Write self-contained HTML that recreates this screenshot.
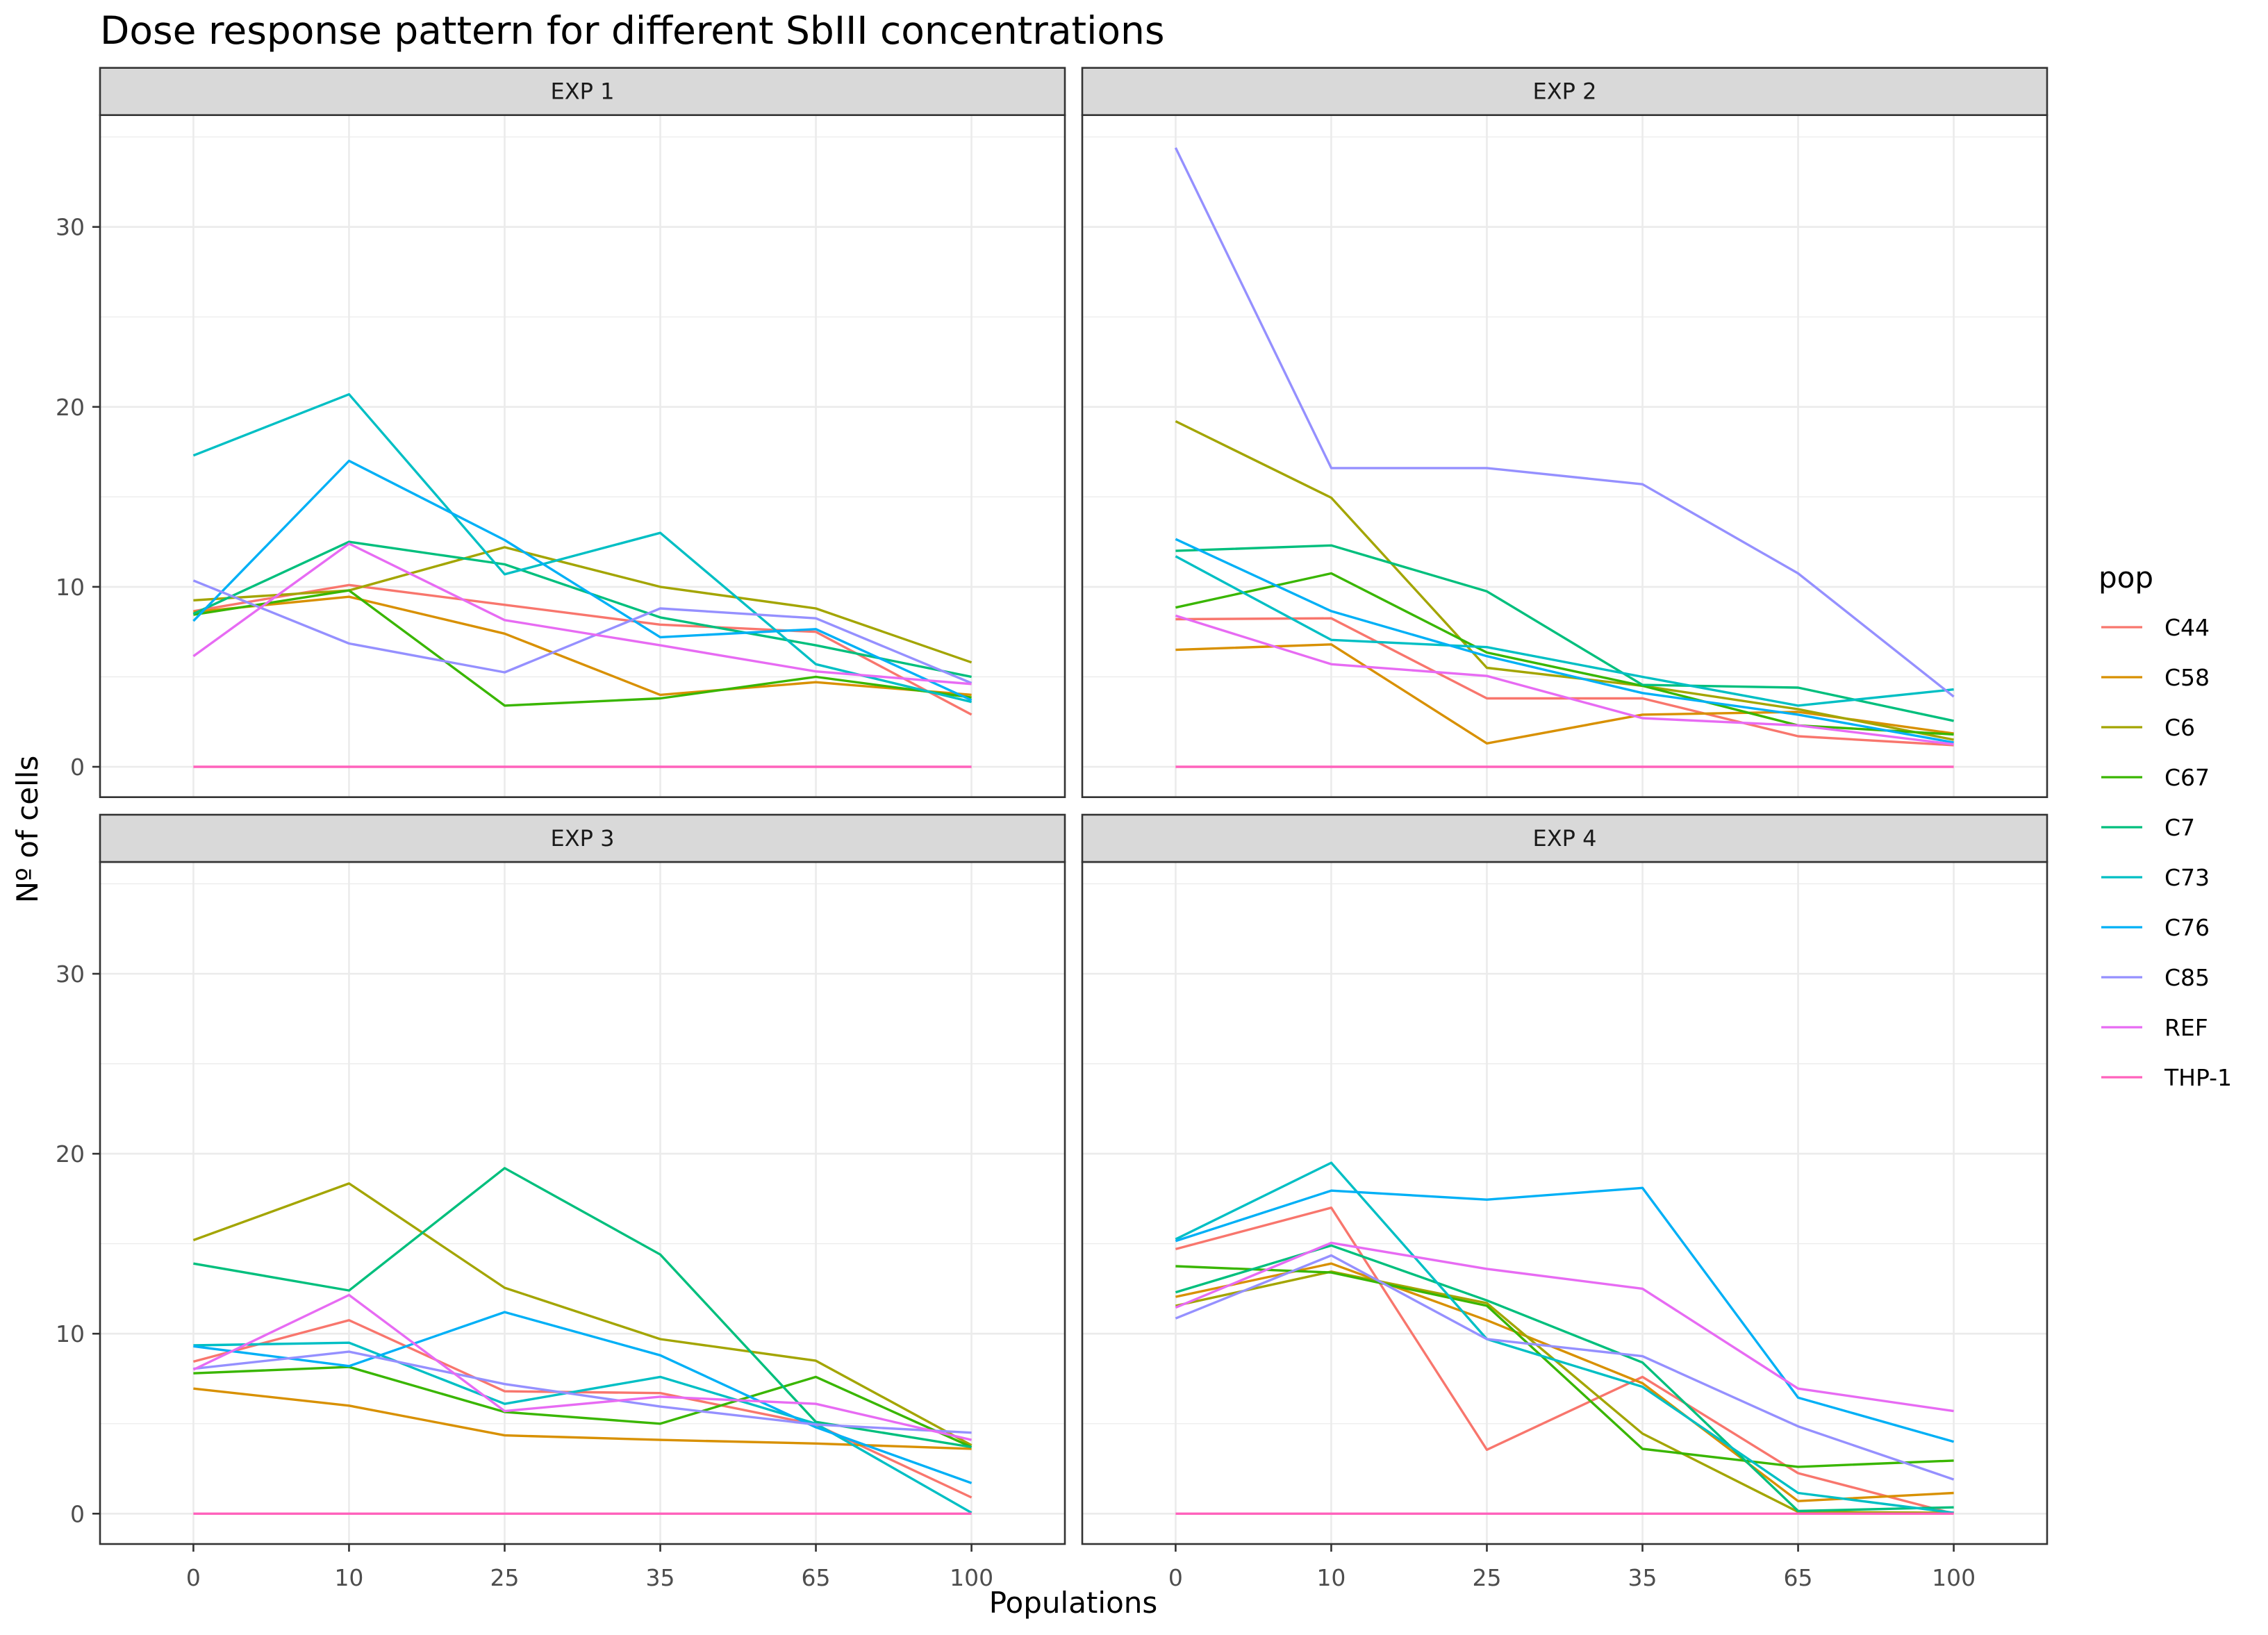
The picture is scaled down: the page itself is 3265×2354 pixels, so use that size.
<!DOCTYPE html>
<html><head><meta charset="utf-8">
<style>
html,body{margin:0;padding:0;background:#fff;}
svg{display:block;font-family:"DejaVu Sans","Liberation Sans",sans-serif;}
</style></head>
<body>
<svg id="chart" xmlns="http://www.w3.org/2000/svg" width="3265" height="2354" viewBox="0 0 3265 2354">
<rect x="0" y="0" width="3265" height="2354" fill="#fff"/>
<text x="144" y="63" font-size="55" fill="#000">Dose response pattern for different SbIII concentrations</text>
<text x="1545" y="2322" font-size="42" text-anchor="middle" fill="#000">Populations</text>
<text x="0" y="0" font-size="42" text-anchor="middle" fill="#000" transform="translate(54,1194) rotate(-90)">Nº of cells</text>
<g id="panels"></g>
<g id="legend"></g>
</svg>
<script>
const categories = ["0","10","25","35","65","100"];
const yTicks = [0,10,20,30];
const yMinor = [5,15,25,35];
const series = ["C44","C58","C6","C67","C7","C73","C76","C85","REF","THP-1"];
const colors = ["#F8766D","#D89000","#A3A500","#39B600","#00BF7D","#00BFC4","#00B0F6","#9590FF","#E76BF3","#FF62BC"];
const panelNames = ["EXP 1","EXP 2","EXP 3","EXP 4"];

const exp1C44 = [8.65,10.1,9.0,7.9,7.5,2.9];
const exp1C58 = [8.6,9.45,7.4,4.0,4.7,4.0];
const exp1C6 = [9.25,9.8,12.2,10.0,8.8,5.8];
const exp1C67 = [8.45,9.8,3.4,3.8,5.0,3.85];
const exp1C7 = [8.5,12.5,11.25,8.3,6.75,5.0];
const exp1C73 = [17.3,20.7,10.7,13.0,5.7,3.6];
const exp1C76 = [8.1,17.0,12.6,7.2,7.65,3.7];
const exp1C85 = [10.35,6.85,5.25,8.8,8.25,4.65];
const exp1REF = [6.15,12.4,8.15,6.75,5.3,4.6];
const exp1THP1 = [0,0,0,0,0,0];

const exp2C44 = [8.2,8.25,3.8,3.8,1.7,1.2];
const exp2C58 = [6.5,6.8,1.3,2.9,3.05,1.85];
const exp2C6 = [19.2,14.95,5.5,4.5,3.2,1.5];
const exp2C67 = [8.85,10.75,6.35,4.5,2.3,1.8];
const exp2C7 = [12.0,12.3,9.75,4.55,4.4,2.55];
const exp2C73 = [11.7,7.05,6.65,5.0,3.4,4.3];
const exp2C76 = [12.65,8.65,6.15,4.1,2.9,1.35];
const exp2C85 = [34.4,16.6,16.6,15.7,10.75,3.9];
const exp2REF = [8.4,5.7,5.05,2.7,2.3,1.25];
const exp2THP1 = [0,0,0,0,0,0];

const exp3C44 = [8.45,10.75,6.8,6.7,4.95,0.9];
const exp3C58 = [6.95,6.0,4.35,4.1,3.9,3.6];
const exp3C6 = [15.2,18.35,12.55,9.7,8.5,3.8];
const exp3C67 = [7.8,8.15,5.65,5.0,7.6,3.7];
const exp3C7 = [13.9,12.4,19.2,14.4,5.1,3.7];
const exp3C73 = [9.35,9.5,6.1,7.6,5.0,0.05];
const exp3C76 = [9.3,8.2,11.2,8.8,4.8,1.7];
const exp3C85 = [8.05,9.0,7.2,5.95,4.95,4.5];
const exp3REF = [8.0,12.15,5.7,6.5,6.1,4.1];
const exp3THP1 = [0,0,0,0,0,0];

const exp4C44 = [14.7,17.0,3.55,7.6,2.25,0];
const exp4C58 = [12.05,13.9,10.75,7.25,0.7,1.15];
const exp4C6 = [11.55,13.45,11.7,4.45,0.1,0.05];
const exp4C67 = [13.75,13.4,11.55,3.6,2.6,2.95];
const exp4C7 = [12.3,14.9,11.85,8.4,0.15,0.35];
const exp4C73 = [15.25,19.5,9.7,7.05,1.15,0.05];
const exp4C76 = [15.15,17.95,17.45,18.1,6.45,4.0];
const exp4C85 = [10.85,14.35,9.7,8.75,4.85,1.9];
const exp4REF = [11.45,15.05,13.6,12.5,6.95,5.7];
const exp4THP1 = [0,0,0,0,0,0];

const panelData = [
  [exp1C44,exp1C58,exp1C6,exp1C67,exp1C7,exp1C73,exp1C76,exp1C85,exp1REF,exp1THP1],
  [exp2C44,exp2C58,exp2C6,exp2C67,exp2C7,exp2C73,exp2C76,exp2C85,exp2REF,exp2THP1],
  [exp3C44,exp3C58,exp3C6,exp3C67,exp3C7,exp3C73,exp3C76,exp3C85,exp3REF,exp3THP1],
  [exp4C44,exp4C58,exp4C6,exp4C67,exp4C7,exp4C73,exp4C76,exp4C85,exp4REF,exp4THP1]
];

const NS = "http://www.w3.org/2000/svg";
function mk(tag, attrs, parent){
  const e = document.createElementNS(NS, tag);
  for (const k in attrs) e.setAttribute(k, attrs[k]);
  if (parent) parent.appendChild(e);
  return e;
}
const panelsG = document.getElementById("panels");
const PW = 1389, PH = 982, STRIP = 68;
const lefts = [144, 1558], tops = [165.7, 1241];
const yUnit = 25.91, y0Off = 1104 - 165.7;
const xStep = PW / (categories.length - 1 + 1.2);

panelNames.forEach((name, p) => {
  const L = lefts[p % 2], T = tops[Math.floor(p / 2)];
  const xs = i => L + xStep * (0.6 + i);
  const ys = v => T + y0Off - v * yUnit;
  const g = mk("g", {}, panelsG);
  
  
  mk("rect", {x:L, y:T, width:PW, height:PH, fill:"#fff"}, g);
  yMinor.forEach(v => { mk("line", {x1:L, x2:L+PW, y1:ys(v), y2:ys(v), stroke:"#ebebeb", "stroke-width":1.3}, g); });
  yTicks.forEach(v => { mk("line", {x1:L, x2:L+PW, y1:ys(v), y2:ys(v), stroke:"#ebebeb", "stroke-width":2.6}, g); });
  categories.forEach((c, i) => { mk("line", {x1:xs(i), x2:xs(i), y1:T, y2:T+PH, stroke:"#ebebeb", "stroke-width":2.6}, g); });
  series.forEach((s, si) => {
    const vals = panelData[p][si];
    const pts = vals.map((v, i) => xs(i).toFixed(1) + "," + ys(v).toFixed(1)).join(" ");
    const pl = mk("polyline", {points:pts, fill:"none", stroke:colors[si], "stroke-width":3.4, "stroke-linejoin":"round"}, g);
    
    
  });
  mk("rect", {x:L, y:T, width:PW, height:PH, fill:"none", stroke:"#333", "stroke-width":2.6}, g);
  const st = mk("rect", {x:L, y:T-STRIP, width:PW, height:STRIP, fill:"#d9d9d9", stroke:"#333", "stroke-width":2.6}, g);
  
  
  const stt = mk("text", {x:L+PW/2, y:T-STRIP/2+11, "font-size":32, "text-anchor":"middle", fill:"#1a1a1a"}, g);
  stt.textContent = name;
  
  
  if (p % 2 === 0) {
    yTicks.forEach(v => {
      mk("line", {x1:L-11, x2:L, y1:ys(v), y2:ys(v), stroke:"#333", "stroke-width":2.6}, g);
      const t = mk("text", {x:L-22, y:ys(v)+12, "font-size":33, "text-anchor":"end", fill:"#4d4d4d"}, g);
      t.textContent = v;
      
      
    });
  }
  if (p >= 2) {
    categories.forEach((c, i) => {
      mk("line", {x1:xs(i), x2:xs(i), y1:T+PH, y2:T+PH+11, stroke:"#333", "stroke-width":2.6}, g);
      const t = mk("text", {x:xs(i), y:T+PH+60, "font-size":33, "text-anchor":"middle", fill:"#4d4d4d"}, g);
      t.textContent = c;
      
      
    });
  }
});

const lg = document.getElementById("legend");
const lt = mk("text", {x:3021, y:846, "font-size":42, fill:"#000"}, lg);
lt.textContent = "pop";


series.forEach((s, si) => {
  const y = 903 + si * 72;
  const e = mk("g", {}, lg);
  
  
  mk("line", {x1:3025, x2:3084, y1:y, y2:y, stroke:colors[si], "stroke-width":3.2}, e);
  const t = mk("text", {x:3116, y:y+12, "font-size":33, fill:"#000"}, e);
  t.textContent = s;
});
</script>
</body></html>
